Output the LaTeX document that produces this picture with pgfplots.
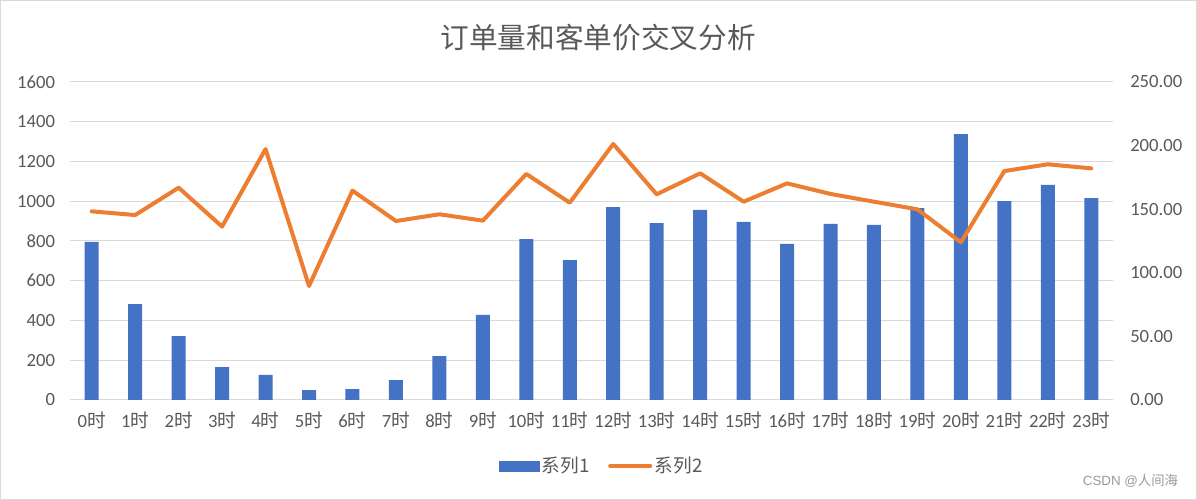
\documentclass[border=0pt]{standalone}
\usepackage{pgfplots}
\pgfplotsset{compat=1.18}
\usepackage{pgfplotstable}
\usepackage{fontspec}
\setmainfont{Carlito}
\newfontfamily\cjk{Noto Sans CJK SC}
\newfontfamily\wm{Liberation Sans}
\definecolor{barblue}{RGB}{68,114,196}
\definecolor{lineorange}{RGB}{237,125,49}
\definecolor{gridgray}{RGB}{217,217,217}
\definecolor{textgray}{RGB}{89,89,89}
\newcommand\shi{{\cjk 时}}
\pgfplotstableread{
x y
0 795
1 483
2 322
3 166
4 126
5 50
6 55
7 100
8 221
9 428
10 810
11 704
12 971
13 890
14 956
15 896
16 785
17 886
18 881
19 966
20 1338
21 1001
22 1082
23 1016
}\orders
\pgfplotstableread{
x y
0 148.3
1 145.4
2 166.9
3 136.3
4 197.3
5 89.6
6 164.6
7 140.7
8 146.0
9 141.0
10 177.7
11 155.1
12 201.3
13 161.7
14 178.2
15 155.9
16 170.3
17 162.0
18 155.9
19 149.9
20 124.0
21 180.0
22 185.3
23 182.1
}\price
\begin{document}
\begin{tikzpicture}
\path[use as bounding box] (0,0) rectangle (897.75pt,375pt);
\draw[gridgray, line width=0.75pt] (0.375pt,0.375pt) rectangle (897.375pt,374.625pt);
\node[text=textgray, font=\cjk\fontsize{21.5}{24}\selectfont] at (448.5pt,346.5pt) {订单量和客单价交叉分析};
\node[anchor=east, text=gray!80, font=\fontsize{10}{12}\selectfont] at (887pt,14.25pt) {\wm CSDN @\cjk 人间海};
\begin{axis}[
  at={(52.5pt,75pt)}, anchor=south west, scale only axis,
  width=782.25pt, height=238.5pt,
  xmin=-0.5, xmax=23.5, ymin=0, ymax=1600,
  ytick={0,200,...,1600},
  xtick={0,...,23},
  xticklabels={0\shi,1\shi,2\shi,3\shi,4\shi,5\shi,6\shi,7\shi,8\shi,9\shi,10\shi,11\shi,12\shi,13\shi,14\shi,15\shi,16\shi,17\shi,18\shi,19\shi,20\shi,21\shi,22\shi,23\shi},
  ymajorgrids, grid style={gridgray, line width=0.75pt},
  axis line style={draw=none},
  major tick length=0pt,
  tick label style={font=\fontsize{14}{16}\selectfont, text=textgray, inner sep=0pt},
  yticklabel shift=11pt,
  xticklabel shift=9pt,
  /pgf/number format/assume math mode=true,
  /pgf/number format/1000 sep={},
]
\addplot[ybar, bar width=10.5pt, fill=barblue, draw=none] table[x=x,y=y] {\orders};
\end{axis}
\begin{axis}[
  at={(52.5pt,75pt)}, anchor=south west, scale only axis,
  width=782.25pt, height=238.5pt,
  xmin=-0.5, xmax=23.5, ymin=0, ymax=250,
  ytick={0,50,...,250},
  hide x axis,
  axis y line*=right,
  axis line style={draw=none},
  major tick length=0pt,
  tick label style={font=\fontsize{14}{16}\selectfont, text=textgray, inner sep=0pt},
  yticklabel shift=12.75pt,
  /pgf/number format/assume math mode=true,
  yticklabel style={/pgf/number format/.cd, fixed, fixed zerofill, precision=2},
  legend columns=2,
  legend style={at={(0.51,-0.2075)}, anchor=center, draw=none, fill=none,
    font=\cjk\fontsize{14}{16}\selectfont, text=textgray,
    /tikz/every even column/.append style={column sep=12pt}},
]
\addlegendimage{legend image code/.code={\fill[barblue] (0pt,-3.75pt) rectangle (30pt,3.75pt);}}
\addlegendentry{系列1}
\addplot[lineorange, line width=3pt, line join=round, line cap=round,
  legend image code/.code={\draw[lineorange, line width=3pt, line cap=round] (1.5pt,0pt) -- (31.5pt,0pt);}]
  table[x=x,y=y] {\price};
\addlegendentry{系列2}
\end{axis}
\end{tikzpicture}
\end{document}
